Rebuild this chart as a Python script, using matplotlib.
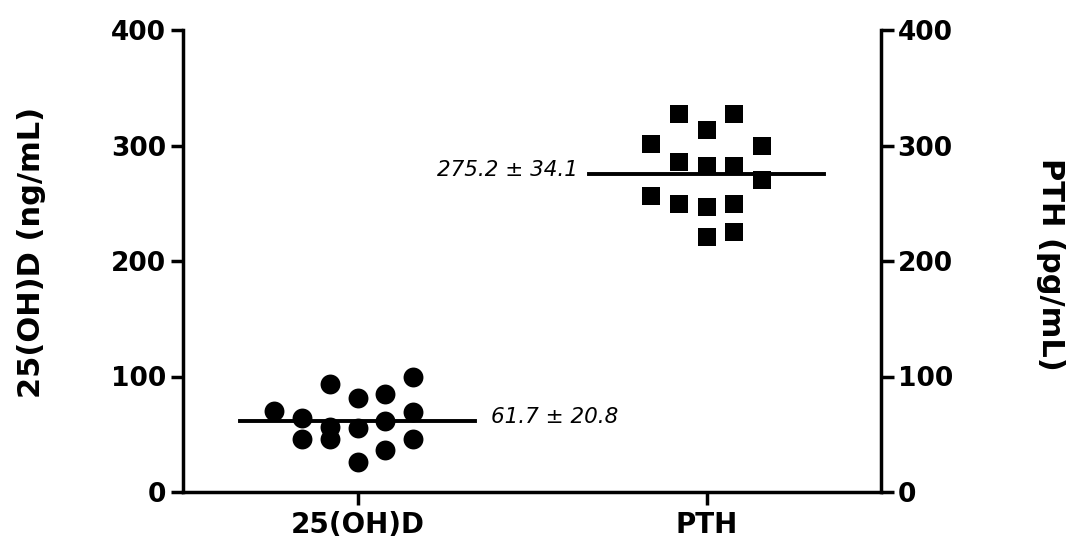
import numpy as np
import matplotlib.pyplot as plt

plt.rcParams['font.family'] = ['DejaVu Sans']

categories = ['25(OH)D', 'PTH']

# 25(OH)D values (ng/mL) and the swarm column each point sits in
vitd_cols = [-3, -2, -2, -1, -1, -1, 0, 0, 0, 1, 1, 1, 2, 2, 2]
vitd_vals = [70.4, 63.8, 45.9, 93.5, 56.0, 45.9, 81.1, 55.2, 26.2,
             84.8, 61.7, 36.6, 99.3, 69.0, 45.9]
vitd_mean, vitd_sd = 61.7, 20.8

# PTH values (pg/mL)
pth_cols = [-2, -2, -1, -1, -1, 0, 0, 0, 0, 1, 1, 1, 1, 2, 2]
pth_vals = [301.3, 256.5, 327.3, 285.4, 249.4, 313.7, 282.5, 246.5, 220.5,
            327.3, 282.5, 249.4, 225.4, 299.3, 270.4]
pth_mean, pth_sd = 275.2, 34.1

pos = [1, 3]
col_step = 0.16
half_line = 0.675

fig = plt.figure(figsize=(10.72, 5.45), dpi=100)
ax = fig.add_axes([183 / 1072, 1 - 492 / 545, (881 - 183) / 1072, (492 - 30) / 545])
ax2 = ax.twinx()

x1 = pos[0] + np.array(vitd_cols) * col_step
x2 = pos[1] + np.array(pth_cols) * col_step
ax.scatter(x1, vitd_vals, s=205, marker='o', color='black', zorder=3, linewidths=0)
ax2.scatter(x2, pth_vals, s=180, marker='s', color='black', zorder=3, linewidths=0)

ax.plot([pos[0] - half_line, pos[0] + half_line], [vitd_mean, vitd_mean], color='black', lw=2.8, zorder=2)
ax2.plot([pos[1] - half_line, pos[1] + half_line], [pth_mean, pth_mean], color='black', lw=2.8, zorder=2)

ax.annotate(f'{vitd_mean} \u00b1 {vitd_sd}', (pos[0] + half_line, vitd_mean), xytext=(11, 3),
            textcoords='offset points', ha='left', va='center', fontsize=15.5, style='italic')
ax2.annotate(f'{pth_mean} \u00b1 {pth_sd}', (pos[1] - half_line, pth_mean), xytext=(-8, 3),
             textcoords='offset points', ha='right', va='center', fontsize=15.5, style='italic')

for a in (ax, ax2):
    a.set_xlim(0, 4)
    a.set_ylim(0, 400)
    a.set_yticks([0, 100, 200, 300, 400])
    a.spines['top'].set_visible(False)
    for s in a.spines.values():
        s.set_linewidth(2.5)
    a.tick_params(width=2.5, length=9, labelsize=19, pad=3)
    for lab in a.get_yticklabels():
        lab.set_fontweight('bold')

ax.spines['right'].set_visible(False)
ax2.spines['left'].set_visible(False)
ax2.spines['bottom'].set_visible(False)

ax.set_xticks(pos)
ax.set_xticklabels(categories, fontweight='bold', fontsize=20)
ax.tick_params(axis='x', pad=5)

fig.text(32 / 1072, 1 - 252 / 545, '25(OH)D (ng/mL)', rotation=90, ha='center', va='center',
         fontsize=22, fontweight='bold')
fig.text(1050 / 1072, 1 - 264 / 545, 'PTH (pg/mL)', rotation=270, ha='center', va='center',
         fontsize=22, fontweight='bold')

fig.savefig('out.png', dpi=100)
